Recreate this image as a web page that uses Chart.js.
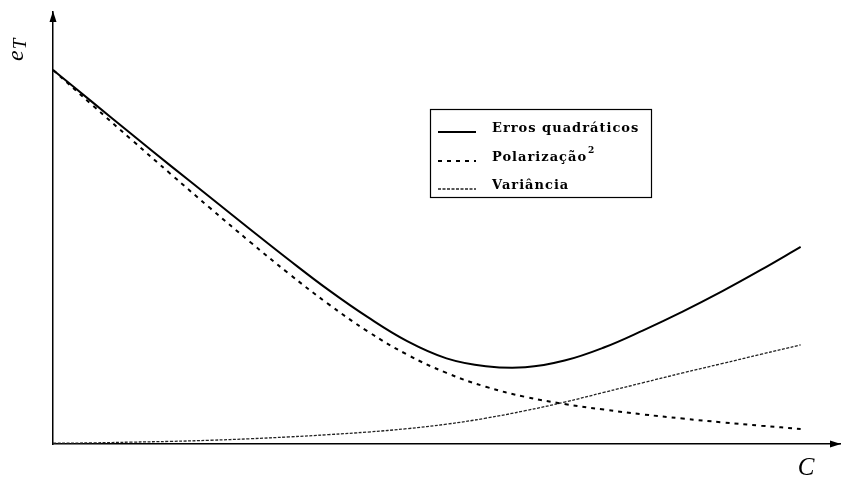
<!DOCTYPE html>
<html>
<head>
<meta charset="utf-8">
<script src="https://cdn.jsdelivr.net/npm/chart.js@4/dist/chart.umd.min.js"></script>
<style>
  html, body { margin: 0; padding: 0; background: #fff; }
  #wrap { width: 842px; height: 479px; }
</style>
</head>
<body>
<div id="wrap"><canvas id="c" width="842" height="479"></canvas></div>
<script>
// Model complexity C (arbitrary units) and the three error curves e_T(C)
const complexity   = [0, 5, 10, 15, 20, 25, 30, 35, 40, 45, 50, 55, 60, 65, 70, 75, 80, 85, 90, 95];
const totalError   = [100, 91.4, 82.8, 74.3, 65.9, 57.5, 49.2, 41.2, 33.9, 27.5, 22.9, 20.8, 20.5, 22.3, 25.8, 30.4, 35.4, 40.8, 46.6, 52.7];
const biasSquared  = [100, 90.6, 81.3, 72.1, 63.0, 54.1, 45.5, 37.4, 30.1, 23.9, 19.0, 15.3, 12.6, 10.7, 9.2, 7.9, 6.8, 5.8, 4.9, 4.0];
const variance     = [0.2, 0.3, 0.5, 0.7, 1.0, 1.4, 1.9, 2.5, 3.2, 4.1, 5.3, 6.9, 8.9, 11.2, 13.8, 16.4, 19.0, 21.5, 24.0, 26.5];
const seriesLabels = ['Erros quadráticos', 'Polarização', 'Variância'];
const seriesSupers = ['', '2', ''];
const yAxisTitle = 'e';
const yAxisSub = 'T';
const xAxisTitle = 'C';

const toPoints = ys => complexity.map((x, i) => ({ x: x, y: ys[i] }));

// Axis arrows, axis titles and the boxed legend
const decor = {
  id: 'decor',
  afterDraw(chart) {
    const ctx = chart.ctx;
    const a = chart.chartArea;
    ctx.save();
    ctx.fillStyle = '#000';
    // arrow heads
    ctx.beginPath();
    ctx.moveTo(a.left, a.top - 1);
    ctx.lineTo(a.left - 3.5, a.top + 10);
    ctx.lineTo(a.left + 3.5, a.top + 10);
    ctx.closePath();
    ctx.fill();
    ctx.beginPath();
    ctx.moveTo(a.right + 1, a.bottom);
    ctx.lineTo(a.right - 10, a.bottom - 3.5);
    ctx.lineTo(a.right - 10, a.bottom + 3.5);
    ctx.closePath();
    ctx.fill();

    // y axis title, rotated
    ctx.save();
    ctx.translate(23, 61);
    ctx.rotate(-Math.PI / 2);
    ctx.textBaseline = 'alphabetic';
    ctx.textAlign = 'left';
    ctx.font = 'italic 24px "Liberation Serif"';
    ctx.fillText(yAxisTitle, 0, 0);
    const ew = ctx.measureText(yAxisTitle).width;
    ctx.font = 'italic 19px "Liberation Serif"';
    ctx.fillText(yAxisSub, ew + 1, 3);
    ctx.restore();

    // x axis title
    ctx.font = 'italic 25px "Liberation Serif"';
    ctx.textAlign = 'center';
    ctx.textBaseline = 'alphabetic';
    ctx.fillText(xAxisTitle, 806, 475);

    // legend box
    const bx = 430.5, by = 109.5, bw = 221, bh = 88;
    ctx.lineWidth = 1.2;
    ctx.strokeStyle = '#000';
    ctx.strokeRect(bx, by, bw, bh);
    const rows = [132, 161, 189];
    chart.data.datasets.forEach((ds, i) => {
      const y = rows[i];
      ctx.save();
      ctx.strokeStyle = ds.borderColor;
      ctx.lineWidth = ds.borderWidth;
      ctx.setLineDash(ds.borderDash || []);
      ctx.beginPath();
      ctx.moveTo(438, y);
      ctx.lineTo(476, y);
      ctx.stroke();
      ctx.restore();
      ctx.font = 'bold 13px "DejaVu Serif"';
      ctx.letterSpacing = '1px';
      ctx.textAlign = 'left';
      ctx.fillStyle = '#000';
      ctx.fillText(seriesLabels[i], 492, y);
      if (seriesSupers[i]) {
        const w = ctx.measureText(seriesLabels[i]).width;
        ctx.font = 'bold 9px "DejaVu Serif"';
        ctx.fillText(seriesSupers[i], 492 + w + 1, y - 8);
      }
    });
    ctx.restore();
  }
};

new Chart(document.getElementById('c'), {
  type: 'line',
  data: {
    datasets: [
      { label: seriesLabels[0], data: toPoints(totalError), borderColor: '#000', borderWidth: 2, borderDash: [] },
      { label: seriesLabels[1] + '²', data: toPoints(biasSquared), borderColor: '#000', borderWidth: 2, borderDash: [4, 5] },
      { label: seriesLabels[2], data: toPoints(variance), borderColor: '#222', borderWidth: 1.3, borderDash: [3, 1.5] }
    ]
  },
  options: {
    responsive: false,
    animation: false,
    devicePixelRatio: 1,
    layout: { padding: { left: 53, right: 2, top: 12, bottom: 35 } },
    elements: {
      point: { radius: 0 },
      line: { tension: 0.4, fill: false }
    },
    plugins: { legend: { display: false }, tooltip: { enabled: false } },
    scales: {
      x: {
        type: 'linear', min: 0, max: 100,
        grid: { display: false, drawTicks: false },
        ticks: { display: false },
        border: { display: true, color: '#000', width: 1.5 }
      },
      y: {
        min: 0, max: 115.5,
        grid: { display: false, drawTicks: false },
        ticks: { display: false },
        border: { display: true, color: '#000', width: 1.5 }
      }
    }
  },
  plugins: [decor]
});
</script>
</body>
</html>
